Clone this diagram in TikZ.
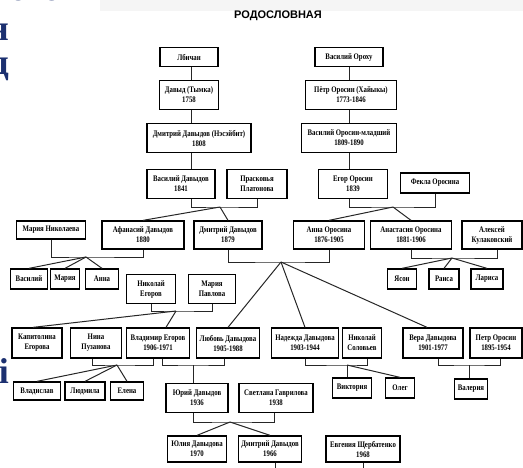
\documentclass[tikz,border=0pt]{standalone}
\usepackage{fontspec}
\setmainfont{Liberation Serif}
\newfontfamily\boxfont[FakeStretch=0.8]{Liberation Serif}
\newfontfamily\headfont{Liberation Sans}
\definecolor{slideblue}{RGB}{28,48,112}
\tikzset{
    %Define style for person boxes
    pers/.style={
           rectangle,
           draw=black,
           line width=1.3pt,
           fill=white,
           align=center,
           inner sep=0.5pt,
           font=\boxfont\bfseries\fontsize{8.5}{10}\selectfont},
    % Define box size
    sz/.style 2 args={minimum width=#1pt, minimum height=#2pt},
    % Define line style
    link/.style={
           draw=black!85,
           line width=1pt},
    % Define style for cut slide text
    slidetext/.style={
           anchor=base east,
           inner sep=0pt,
           text=slideblue,
           font=\fontsize{36}{40}\selectfont\bfseries}
}

\begin{document}
\begin{tikzpicture}[x=1pt, y=-1pt]
  \useasboundingbox (0,0) rectangle (523,467);
  \clip (0,0) rectangle (523,467);
  \fill[gray!8] (100,0) rectangle (523,11);
  % slide text cut at the left
  \node[slidetext] (s1) at (61,0.5) {кого};
  \node[slidetext] (s2) at (9,40) {н};
  \node[slidetext] (s3) at (9,74) {д};
  \node[slidetext] (s4) at (9,383) {і};

  \node[font=\headfont\bfseries\fontsize{11}{13}\selectfont] (title) at (278,16) {РОДОСЛОВНАЯ};

  % Davydov and Orosin lines
  \node[pers,sz={58}{19}] (lbichan) at (189,57) {Лбичан};
  \node[pers,sz={59}{29}] (davyd) at (189,95) {Давыд (Тымка)\\1758};
  \node[pers,sz={104}{29}] (dm1808) at (199,138) {Дмитрий Давыдов (Нэсэйбит)\\1808};
  \node[pers,sz={68}{29}] (vd1841) at (181,184) {Василий Давыдов\\1841};
  \node[pers,sz={60}{29}] (prask) at (257,184) {Прасковья\\Платонова};
  \node[pers,sz={68}{19}] (vorohu) at (349,57) {Василий Ороху};
  \node[pers,sz={91}{29}] (petr1773) at (351,95) {Пётр Оросин (Хайыкы)\\1773-1846};
  \node[pers,sz={95}{29}] (vor1809) at (349,138) {Василий Оросин-младший\\1809-1890};
  \node[pers,sz={69}{29}] (egor) at (353,184) {Егор Оросин\\1839};
  \node[pers,sz={69}{20}] (fekla) at (435,183) {Фекла Оросина};

  % children of 1840s
  \node[pers,sz={69}{18}] (mnik) at (51,230) {Мария Николаева};
  \node[pers,sz={82}{28}] (afan) at (143,235) {Афанасий Давыдов\\1880};
  \node[pers,sz={68}{28}] (dm1879) at (228,235) {Дмитрий Давыдов\\1879};
  \node[pers,sz={71}{28}] (anna) at (329,235) {Анна Оросина\\1876-1905};
  \node[pers,sz={81}{28}] (anast) at (411,235) {Анастасия Оросина\\1881-1906};
  \node[pers,sz={60}{28}] (kulak) at (492,235) {Алексей\\Кулаковский};

  \node[pers,sz={37}{20}] (vasiliy) at (29,279) {Василий};
  \node[pers,sz={29}{20}] (mariya) at (65,279) {Мария};
  \node[pers,sz={33}{20}] (anna2) at (102,279) {Анна};
  \node[pers,sz={49}{29}] (nik) at (151,289) {Николай\\Егоров};
  \node[pers,sz={47}{29}] (mpavl) at (212,289) {Мария\\Павлова};
  \node[pers,sz={29}{20}] (yason) at (402,279) {Ясон};
  \node[pers,sz={30}{20}] (raisa) at (444,279) {Раиса};
  \node[pers,sz={32}{20}] (larisa) at (487,279) {Лариса};

  \node[pers,sz={50}{30}] (kapit) at (37,343) {Капитолина\\Егорова};
  \node[pers,sz={51}{30}] (nina) at (96,343) {Нина\\Пузанова};
  \node[pers,sz={63}{30}] (vlad) at (158,343) {Владимир Егоров\\1906-1971};
  \node[pers,sz={63}{30}] (lyub) at (228,343) {Любовь Давыдова\\1905-1988};
  \node[pers,sz={67}{30}] (nadezh) at (305,343) {Надежда Давыдова\\1903-1944};
  \node[pers,sz={39}{30}] (nsol) at (362,343) {Николай\\Соловьев};
  \node[pers,sz={60}{30}] (vera) at (433,343) {Вера Давыдова\\1901-1977};
  \node[pers,sz={52}{30}] (petr1895) at (496,343) {Петр Оросин\\1895-1954};

  \node[pers,sz={47}{18}] (vladis) at (37,391) {Владислав};
  \node[pers,sz={40}{18}] (lyudm) at (85,391) {Людмила};
  \node[pers,sz={33}{18}] (elena) at (127,391) {Елена};
  \node[pers,sz={62}{29}] (yuriy) at (197,398) {Юрий Давыдов\\1936};
  \node[pers,sz={74}{29}] (svet) at (276,398) {Светлана Гаврилова\\1938};
  \node[pers,sz={39}{20}] (viktor) at (352,388) {Виктория};
  \node[pers,sz={29}{20}] (oleg) at (400,388) {Олег};
  \node[pers,sz={33}{20}] (valer) at (471,389) {Валерия};

  \node[pers,sz={59}{26}] (yulia) at (197,449) {Юлия Давыдова\\1970};
  \node[pers,sz={63}{26}] (dm1966) at (270,449) {Дмитрий Давыдов\\1966};
  \node[pers,sz={74}{26}] (evg) at (363,449) {Евгения Щербатенко\\1968};

  % descent lines
  \coordinate (dline) at (191,0);
  \coordinate (oline) at (349,0);
  \draw[link] (lbichan.south -| dline) -- (davyd.north -| dline);
  \draw[link] (davyd.south -| dline) -- (dm1808.north -| dline);
  \draw[link] (dm1808.south -| dline) -- (vd1841.north -| dline);
  \draw[link] (vorohu.south -| oline) -- (petr1773.north -| oline);
  \draw[link] (petr1773.south -| oline) -- (vor1809.north -| oline);
  \draw[link] (vor1809.south -| oline) -- (egor.north -| oline);

  % couples and their children
  \coordinate (ja) at (220,207);
  \draw[link] (vd1841.south -| dline) |- (ja) -| (prask.south);
  \draw[link] (ja) -- (afan.north);
  \draw[link] (ja) -- (dm1879.north);

  \coordinate (jb) at (393,207);
  \draw[link] (egor.south -| oline) |- (jb) -| (fekla.south);
  \draw[link] (jb) -- (anna.north);
  \draw[link] (jb) -- (anast.north);

  \coordinate (jc) at (86,257);
  \draw[link] (mnik.south) |- (jc) -| (afan.south);
  \draw[link] (jc) -- (vasiliy.north);
  \draw[link] (jc) -- (mariya.north);
  \draw[link] (jc) -- (anna2.north);

  \coordinate (jd) at (281,262);
  \draw[link] (dm1879.south) |- (jd) -| (anna.south);
  \draw[link] (jd) -- (lyub.north);
  \draw[link] (jd) -- (nadezh.north);
  \draw[link] (jd) -- ([xshift=-6pt]vera.north);

  \coordinate (je) at (452,258);
  \draw[link] (anast.south) |- (je) -| ([xshift=5pt]kulak.south);
  \draw[link] (je) -- (yason.north);
  \draw[link] (je) -- (raisa.north);
  \draw[link] (je) -- (larisa.north);

  \coordinate (jf) at (176,311);
  \draw[link] (nik.south) |- (jf) -| (mpavl.south);
  \draw[link] (jf) -- ([xshift=-4pt]kapit.north);
  \draw[link] (jf) -- ([xshift=8pt]vlad.north);

  \coordinate (jg) at (117,365);
  \draw[link] ([xshift=-4pt]nina.south) |- (jg) -| ([xshift=-5pt]vlad.south);
  \draw[link] (jg) -- (vladis.north);
  \draw[link] (jg) -- (lyudm.north);
  \draw[link] (jg) -- (elena.north);

  \coordinate (jh) at (193,365);
  \draw[link] ([xshift=4pt]vlad.south) |- (jh) -| ([xshift=-4pt]lyub.south);
  \draw[link] (jh) -- (yuriy.north -| jh);

  \coordinate (ji) at (347,365);
  \draw[link] (nadezh.south) |- (ji) -| ([xshift=5pt]nsol.south);
  \draw[link] (ji) -- (viktor.north -| ji);
  \draw[link] (ji) -- (oleg.north);

  \coordinate (jj) at (469,365);
  \draw[link] ([xshift=5pt]vera.south) |- (jj) -| ([xshift=4pt]petr1895.south);
  \draw[link] (jj) -- (valer.north -| jj);

  \coordinate (jk) at (230,422);
  \draw[link] ([xshift=-4pt]yuriy.south) |- (jk) -| ([xshift=-2pt]svet.south);
  \draw[link] (jk) -- (yulia.north);
  \draw[link] (jk) -- (dm1966.north);

  % lines running off the bottom
  \coordinate (below) at (0,472);
  \draw[link] ([xshift=5pt]dm1966.south) -- ([xshift=5pt]dm1966.south |- below);
  \draw[link] (evg.south) -- (evg.south |- below);
\end{tikzpicture}
\end{document}
